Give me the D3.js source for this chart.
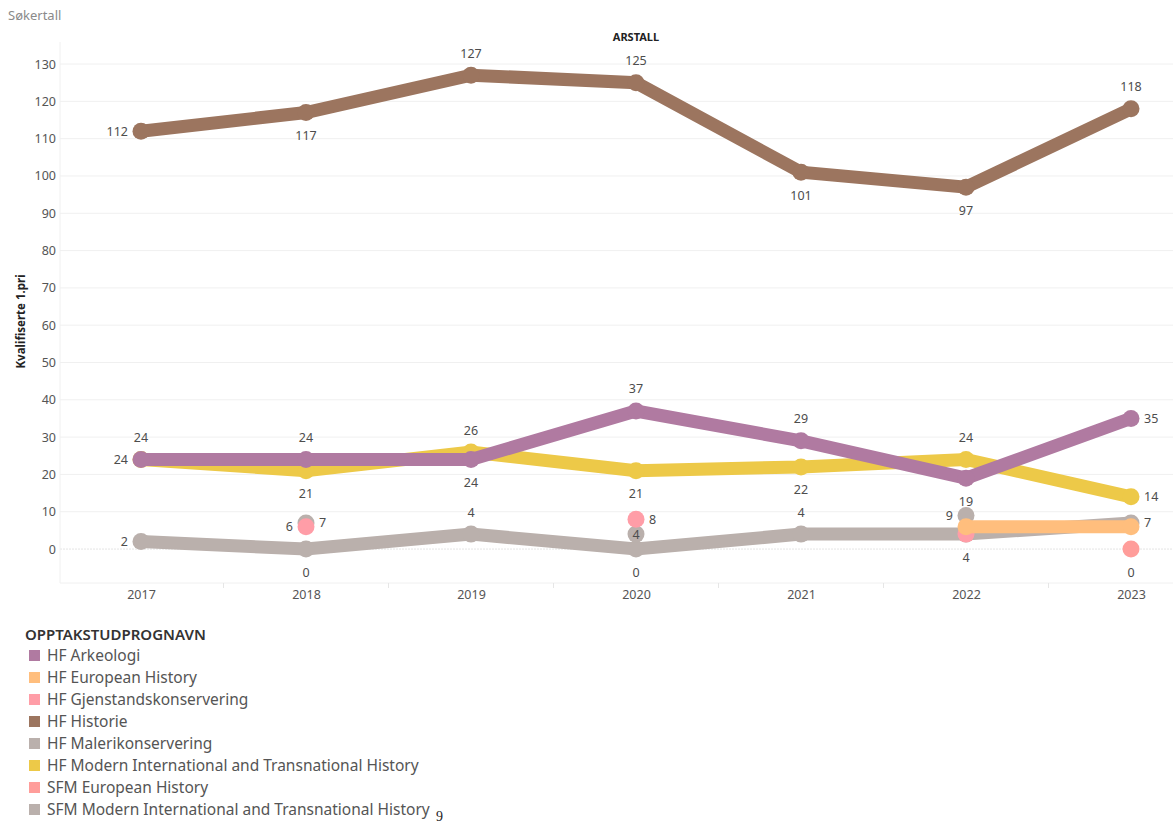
<!DOCTYPE html>
<html>
<head>
<meta charset="utf-8">
<script src="https://cdn.jsdelivr.net/npm/d3@7"></script>
<style>
  body { margin: 0; background: #fff; }
  svg { font-family: "Noto Sans", "Open Sans", sans-serif; }
</style>
</head>
<body>
<svg id="chart" width="1173" height="825"></svg>
<script>
// years on the x axis
const years = [2017, 2018, 2019, 2020, 2021, 2022, 2023];
const yTicks = [0, 10, 20, 30, 40, 50, 60, 70, 80, 90, 100, 110, 120, 130];

// legend order
const programmes = [
  "HF Arkeologi",
  "HF European History",
  "HF Gjenstandskonservering",
  "HF Historie",
  "HF Malerikonservering",
  "HF Modern International and Transnational History",
  "SFM European History",
  "SFM Modern International and Transnational History"
];
const colors = ["#b07aa1", "#ffbe7d", "#ff9da7", "#9c755f", "#bab0ac", "#edc948", "#ff9d9a", "#bab0ac"];

// values per programme (null = no intake that year)
const arkeologi   = [24, 24, 24, 37, 29, 19, 35];
const european    = [null, null, null, null, null, 6, 6];
const gjenstand   = [null, 6, null, 8, null, 4, null];
const historie    = [112, 117, 127, 125, 101, 97, 118];
const maleri      = [null, 7, null, 4, null, 9, null];
const modernHF    = [24, 21, 26, 21, 22, 24, 14];
const sfmEuropean = [null, null, null, null, null, null, 0];
const sfmModern   = [2, 0, 4, 0, 4, 4, 7];

// side of the point where the value label sits, null = hidden
// a = above, b = below, l = left, r = right, c = centred on the point
const arkeologiLbl   = ["l", "a", "b", "a", "a", "b", "r"];
const europeanLbl    = [null, null, null, null, null, null, null];
const gjenstandLbl   = [null, "l", null, "r", null, null, null];
const historieLbl    = ["l", "b", "a", "a", "b", "b", "a"];
const maleriLbl      = [null, "r", null, "c", null, "l", null];
const modernHFLbl    = ["a", "b", "a", "b", "b", "a", "r"];
const sfmEuropeanLbl = [null, null, null, null, null, null, "b"];
const sfmModernLbl   = ["l", "b", "a", "b", "a", "b", "r"];

const seriesValues = [arkeologi, european, gjenstand, historie, maleri, modernHF, sfmEuropean, sfmModern];
const seriesLabels = [arkeologiLbl, europeanLbl, gjenstandLbl, historieLbl, maleriLbl, modernHFLbl, sfmEuropeanLbl, sfmModernLbl];

// bottom-to-top drawing order (index into programmes)
const drawOrder = [7, 5, 4, 6, 3, 2, 1, 0];

const svg = d3.select('#chart');
const plotTop = 42, plotBottom = 583, plotLeft = 60, plotRight = 1173;

const x = d3.scalePoint().domain(years).range([141, 1131]);
const y = d3.scaleLinear().domain([-9.1, 135.9]).range([plotBottom, plotTop]);
const step = x.step();

svg.append('text')
  .attr('x', 8).attr('y', 20)
  .attr('font-size', 13).attr('fill', '#8a8a8a')
  .text('Søkertall');

svg.append('text')
  .attr('x', x(2020)).attr('y', 41)
  .attr('text-anchor', 'middle')
  .attr('font-size', 11).attr('font-weight', 'bold').attr('fill', '#222')
  .text('ARSTALL');

// grid
const grid = svg.append('g');
grid.selectAll('line.h').data(yTicks).enter().append('line')
  .attr('x1', plotLeft).attr('x2', plotRight)
  .attr('y1', d => y(d)).attr('y2', d => y(d))
  .attr('stroke', d => d === 0 ? '#e4e4e4' : '#f0f0f0')
  .attr('stroke-dasharray', d => d === 0 ? '2,1' : null);
grid.append('line')
  .attr('x1', plotLeft).attr('x2', plotLeft).attr('y1', plotTop).attr('y2', plotBottom)
  .attr('stroke', '#f0f0f0');
grid.append('line')
  .attr('x1', plotLeft).attr('x2', plotRight).attr('y1', plotBottom).attr('y2', plotBottom)
  .attr('stroke', '#f0f0f0');
grid.selectAll('line.t').data(years.slice(1)).enter().append('line')
  .attr('x1', d => x(d) - step / 2).attr('x2', d => x(d) - step / 2)
  .attr('y1', plotBottom).attr('y2', plotBottom + 5)
  .attr('stroke', '#e6e6e6');

// y axis
const yAxis = svg.append('g')
  .attr('transform', 'translate(' + (plotLeft - 2) + ',0)')
  .call(d3.axisLeft(y).tickValues(yTicks).tickSize(0).tickPadding(2));
yAxis.select('.domain').remove();
yAxis.selectAll('text')
  .attr('font-size', 12.5).attr('fill', '#555')
  .attr('font-family', '"Noto Sans", sans-serif');

svg.append('text')
  .attr('transform', 'translate(25,' + y(61) + ') rotate(-90)')
  .attr('text-anchor', 'middle')
  .attr('font-size', 11.5).attr('font-weight', 'bold').attr('fill', '#222')
  .text('Kvalifiserte 1.pri');

// x axis
const xAxis = svg.append('g')
  .attr('transform', 'translate(0,' + plotBottom + ')')
  .call(d3.axisBottom(x).tickSize(0).tickPadding(7));
xAxis.select('.domain').remove();
xAxis.selectAll('text')
  .attr('font-size', 12.5).attr('fill', '#555')
  .attr('font-family', '"Noto Sans", sans-serif');

// lines and points
const line = d3.line()
  .defined(d => d.v !== null)
  .x(d => x(d.year))
  .y(d => y(d.v));

const marks = svg.append('g');
drawOrder.forEach(i => {
  const pts = years.map((yr, j) => ({ year: yr, v: seriesValues[i][j] }));
  marks.append('path')
    .datum(pts)
    .attr('d', line)
    .attr('fill', 'none')
    .attr('stroke', colors[i])
    .attr('stroke-width', 13)
    .attr('stroke-linejoin', 'miter');
  marks.selectAll(null)
    .data(pts.filter(d => d.v !== null))
    .enter().append('circle')
    .attr('cx', d => x(d.year))
    .attr('cy', d => y(d.v))
    .attr('r', 8.5)
    .attr('fill', colors[i]);
});

// value labels
const labels = svg.append('g')
  .attr('font-size', 12.5).attr('fill', '#4d4d4d');
seriesValues.forEach((vals, i) => {
  vals.forEach((v, j) => {
    const side = seriesLabels[i][j];
    if (v === null || !side) return;
    const cx = x(years[j]), cy = y(v);
    let tx = cx, ty = cy + 4.5, anchor = 'middle';
    if (side === 'a') ty = cy - 22 + 4.5;
    if (side === 'b') ty = cy + 23 + 4.5;
    if (side === 'l') { tx = cx - 13; anchor = 'end'; }
    if (side === 'r') { tx = cx + 13; anchor = 'start'; }
    labels.append('text')
      .attr('x', tx).attr('y', ty)
      .attr('text-anchor', anchor)
      .text(v);
  });
});

// legend
const legend = svg.append('g').attr('transform', 'translate(25,640)');
legend.append('text')
  .attr('x', 0).attr('y', 0)
  .attr('font-size', 15).attr('font-weight', 600).attr('fill', '#333')
  .text('OPPTAKSTUDPROGNAVN');
const item = legend.selectAll('g.item').data(programmes).enter().append('g')
  .attr('transform', (d, i) => 'translate(0,' + (10 + i * 22) + ')');
item.append('rect')
  .attr('x', 4).attr('y', 0).attr('width', 11).attr('height', 11)
  .attr('fill', (d, i) => colors[i]);
item.append('text')
  .attr('x', 22).attr('y', 11)
  .attr('font-size', 15.5).attr('fill', '#555')
  .text(d => d);

svg.append('text')
  .attr('x', 436).attr('y', 821)
  .attr('font-family', 'serif').attr('font-size', 14).attr('fill', '#222')
  .text('9');
</script>
</body>
</html>
